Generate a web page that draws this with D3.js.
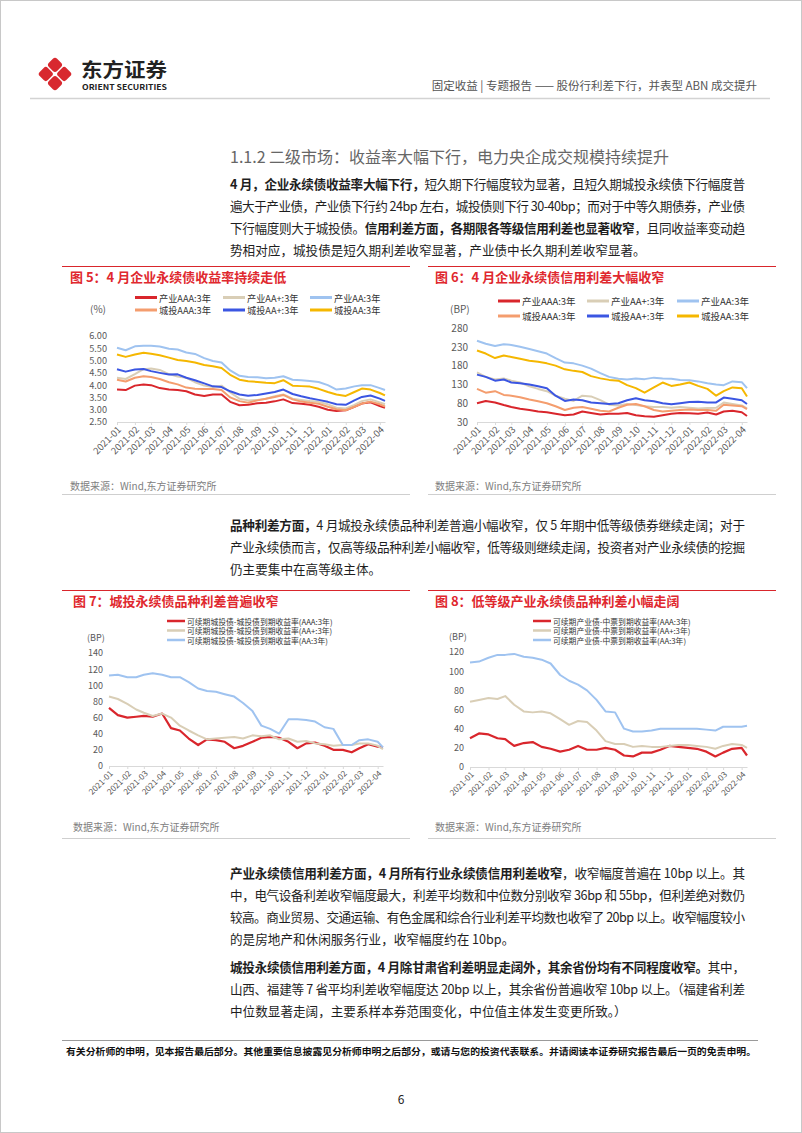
<!DOCTYPE html>
<html><head><meta charset="utf-8">
<script src="https://cdn.jsdelivr.net/npm/d3@7"></script>
<style>
body{margin:0;background:#fff}
svg{display:block}
text{font-family:"Noto Sans CJK SC","Noto Sans",sans-serif}
</style>
</head><body>
<svg id="page" width="802" height="1133"></svg>
<script>
// ---------- DATA ----------
const dates = ["2021-01-01","2021-01-16","2021-02-01","2021-02-16","2021-03-01","2021-03-16","2021-04-01","2021-04-16",
"2021-05-01","2021-05-16","2021-06-01","2021-06-16","2021-07-01","2021-07-16","2021-08-01","2021-08-16",
"2021-09-01","2021-09-16","2021-10-01","2021-10-16","2021-11-01","2021-11-16","2021-12-01","2021-12-16",
"2022-01-01","2022-01-16","2022-02-01","2022-02-16","2022-03-01","2022-03-16","2022-04-01","2022-04-10"];

// Fig 5: yields (%)
const c5IndAAA = [3.82,3.80,3.98,4.03,4.00,3.88,3.82,3.80,3.75,3.62,3.56,3.62,3.62,3.32,3.18,3.20,3.26,3.28,3.34,3.42,3.27,3.24,3.20,3.12,3.00,2.95,2.98,3.12,3.25,3.30,3.15,3.08];
const c5IndAAp = [4.30,4.25,4.45,4.65,4.68,4.62,4.45,4.35,4.30,4.12,3.98,3.92,3.98,3.70,3.45,3.38,3.40,3.45,3.55,3.62,3.45,3.40,3.35,3.32,3.22,3.08,3.05,3.20,3.35,3.42,3.30,3.22];
const c5IndAA  = [5.52,5.42,5.58,5.60,5.60,5.57,5.48,5.45,5.33,5.27,5.10,4.98,4.92,4.60,4.38,4.33,4.32,4.28,4.30,4.36,4.22,4.20,4.17,4.13,4.00,3.82,3.86,3.95,4.00,4.00,3.88,3.80];
const c5CtAAA  = [4.22,4.15,4.30,4.36,4.33,4.25,4.12,4.03,3.90,3.85,3.84,3.84,3.80,3.50,3.35,3.28,3.38,3.45,3.52,3.60,3.42,3.33,3.28,3.24,3.12,3.02,2.98,3.12,3.25,3.33,3.22,3.13];
const c5CtAAp  = [4.65,4.55,4.64,4.66,4.57,4.50,4.43,4.44,4.30,4.20,4.07,3.95,3.92,3.75,3.62,3.57,3.60,3.66,3.72,3.82,3.64,3.55,3.47,3.40,3.32,3.22,3.20,3.38,3.52,3.58,3.45,3.36];
const c5CtAA   = [5.25,5.15,5.25,5.32,5.28,5.22,5.12,5.02,4.98,4.92,4.82,4.77,4.70,4.42,4.22,4.16,4.13,4.10,4.08,4.20,3.98,3.96,3.94,3.85,3.72,3.62,3.56,3.72,3.86,3.82,3.68,3.58];

// Fig 6: credit spreads (BP)
const c6IndAAA = [80,86,82,75,70,65,62,58,56,52,48,50,58,54,50,52,52,54,48,45,44,48,52,54,53,52,55,50,58,60,56,46];
const c6IndAAp = [162,150,143,146,140,135,125,118,112,100,92,86,100,98,88,76,74,78,75,72,70,70,68,70,68,66,67,68,82,78,74,66];
const c6IndAA  = [246,238,232,237,235,230,224,218,212,200,188,186,180,172,160,150,145,143,146,144,148,146,145,142,141,138,133,130,128,138,136,120];
const c6CtAAA  = [118,108,112,102,100,96,90,85,80,72,62,68,70,65,60,58,68,76,78,72,62,58,60,62,63,62,62,60,76,74,72,64];
const c6CtAAp  = [156,150,140,143,135,133,130,125,120,100,86,90,88,82,80,78,80,88,93,88,85,80,77,80,83,84,82,82,95,92,88,78];
const c6CtAA   = [220,212,200,207,203,198,193,190,186,180,170,166,163,152,146,142,140,128,120,108,122,135,126,130,135,126,118,100,112,122,120,98];

// Fig 7: 城投 variety spreads (BP)
const c7AAA = [72,63,60,61,62,61,65,47,44,34,26,33,32,30,22,25,30,35,36,35,30,22,28,29,25,20,20,17,22,27,24,23];
const c7AAp = [86,83,77,70,66,62,65,60,50,44,38,33,34,35,36,34,38,37,38,33,34,30,31,28,27,25,26,26,28,28,25,21];
const c7AA  = [112,113,110,110,113,115,113,110,110,104,96,93,92,89,86,78,68,50,46,40,58,58,57,55,48,46,26,26,32,33,30,23];

// Fig 8: 产业 variety spreads (BP)
const c8AAA = [30,35,34,30,29,22,25,26,21,19,16,18,22,18,18,20,18,12,11,15,15,18,22,21,20,19,16,11,15,19,20,12];
const c8AAp = [68,70,72,71,74,65,58,57,58,56,50,44,48,47,38,27,24,24,21,22,21,21,22,23,23,22,21,19,22,24,23,20];
const c8AA  = [109,110,114,117,117,118,115,114,112,108,96,90,86,80,70,58,57,40,37,37,38,40,40,40,40,40,39,38,42,42,42,43];

const c5Ticks = [2.5,3.0,3.5,4.0,4.5,5.0,5.5,6.0];
const c6Ticks = [30,80,130,180,230,280];
const c7Ticks = [0,20,40,60,80,100,120,140];
const c8Ticks = [0,20,40,60,80,100,120];

const names56 = ["产业AAA:3年","产业AA+:3年","产业AA:3年","城投AAA:3年","城投AA+:3年","城投AA:3年"];
const names7 = ["可续期城投债-城投债到期收益率(AAA:3年)","可续期城投债-城投债到期收益率(AA+:3年)","可续期城投债-城投债到期收益率(AA:3年)"];
const names8 = ["可续期产业债-中票到期收益率(AAA:3年)","可续期产业债-中票到期收益率(AA+:3年)","可续期产业债-中票到期收益率(AA:3年)"];

// ---------- STYLE ----------
const RED="#d9262c", BEIGE="#d9ceb6", LBLUE="#9fc3f0", ORANGE="#f49d6e", BLUE="#3b56e2", YELLOW="#f5b700";
const colors56 = [RED,BEIGE,LBLUE,ORANGE,BLUE,YELLOW];
const colors78 = [RED,BEIGE,LBLUE];

const svg = d3.select("#page");
const parse = d3.timeParse("%Y-%m-%d");
const dts = dates.map(parse);

// page frame
svg.append("rect").attr("x",0.5).attr("y",0.5).attr("width",801).attr("height",1132).attr("fill","none").attr("stroke","#c8c8c8");

// ---------- HEADER ----------
const logo = svg.append("g").attr("transform","translate(55,74)");
[[0,-9.2],[-9.2,0],[9.2,0],[0,9.2]].forEach(([dx,dy])=>{
  logo.append("rect").attr("x",-5.8).attr("y",-5.8).attr("width",11.6).attr("height",11.6).attr("rx",3)
    .attr("fill","#d8292f").attr("transform",`translate(${dx},${dy}) rotate(45)`);
});
svg.append("text").attr("x",81).attr("y",77).attr("font-size",19.5).attr("font-weight","bold").attr("fill","#222")
  .attr("textLength",86).attr("lengthAdjust","spacingAndGlyphs").text("东方证券");
svg.append("text").attr("x",82).attr("y",90).attr("font-size",7.4).attr("font-weight","bold").attr("fill","#222")
  .attr("textLength",85).attr("lengthAdjust","spacingAndGlyphs").text("ORIENT SECURITIES");
svg.append("text").attr("x",757).attr("y",90).attr("text-anchor","end").attr("font-size",11.5).attr("fill","#555")
  .text("固定收益 | 专题报告 —— 股份行利差下行，并表型 ABN 成交提升");
svg.append("line").attr("x1",30).attr("x2",770).attr("y1",98.5).attr("y2",98.5).attr("stroke","#d3d3d3").attr("stroke-width",1.5);

// ---------- BODY TEXT ----------
svg.append("text").attr("x",230).attr("y",163).attr("font-size",16).attr("fill","#666")
  .text("1.1.2 二级市场：收益率大幅下行，电力央企成交规模持续提升");

function para(lines, y0, lh){
  lines.forEach((ln,i)=>{
    const t = svg.append("text").attr("x",230).attr("y",y0+i*lh).attr("font-size",12.6).attr("fill","#1e1e1e");
    if (ln.j) t.attr("textLength",515).attr("lengthAdjust","spacing");
    ln.s.forEach(seg=>{
      t.append("tspan").attr("font-weight",seg[1]?"bold":null).text(seg[0]);
    });
  });
}
para([
 {j:1,s:[["4 月，企业永续债收益率大幅下行，",1],["短久期下行幅度较为显著，且短久期城投永续债下行幅度普",0]]},
 {j:1,s:[["遍大于产业债，产业债下行约 24bp 左右，城投债则下行 30-40bp；而对于中等久期债券，产业债",0]]},
 {j:1,s:[["下行幅度则大于城投债。",0],["信用利差方面，各期限各等级信用利差也显著收窄",1],["，且同收益率变动趋",0]]},
 {j:0,s:[["势相对应，城投债是短久期利差收窄显著，产业债中长久期利差收窄显著。",0]]}
],189,22);
para([
 {j:1,s:[["品种利差方面，",1],["4 月城投永续债品种利差普遍小幅收窄，仅 5 年期中低等级债券继续走阔；对于",0]]},
 {j:1,s:[["产业永续债而言，仅高等级品种利差小幅收窄，低等级则继续走阔，投资者对产业永续债的挖掘",0]]},
 {j:0,s:[["仍主要集中在高等级主体。",0]]}
],530,22);
para([
 {j:1,s:[["产业永续债信用利差方面，4 月所有行业永续债信用利差收窄",1],["，收窄幅度普遍在 10bp 以上。其",0]]},
 {j:1,s:[["中，电气设备利差收窄幅度最大，利差平均数和中位数分别收窄 36bp 和 55bp，但利差绝对数仍",0]]},
 {j:1,s:[["较高。商业贸易、交通运输、有色金属和综合行业利差平均数也收窄了 20bp 以上。收窄幅度较小",0]]},
 {j:0,s:[["的是房地产和休闲服务行业，收窄幅度约在 10bp。",0]]}
],878,22);
para([
 {j:1,s:[["城投永续债信用利差方面，4 月除甘肃省利差明显走阔外，其余省份均有不同程度收窄。",1],["其中，",0]]},
 {j:1,s:[["山西、福建等 7 省平均利差收窄幅度达 20bp 以上，其余省份普遍收窄 10bp 以上。（福建省利差",0]]},
 {j:0,s:[["中位数显著走阔，主要系样本券范围变化，中位值主体发生变更所致。）",0]]}
],972,22);

// ---------- FOOTER ----------
svg.append("line").attr("x1",62).attr("x2",758).attr("y1",1040.5).attr("y2",1040.5).attr("stroke","#9a9a9a").attr("stroke-width",1.2);
svg.append("text").attr("x",66).attr("y",1055).attr("font-size",9.6).attr("font-weight","bold").attr("fill","#111")
  .attr("textLength",690).attr("lengthAdjust","spacingAndGlyphs")
  .text("有关分析师的申明，见本报告最后部分。其他重要信息披露见分析师申明之后部分，或请与您的投资代表联系。并请阅读本证券研究报告最后一页的免责申明。");
svg.append("text").attr("x",401).attr("y",1104).attr("text-anchor","middle").attr("font-size",12).attr("fill","#222").text("6");

// ---------- CHARTS ----------
function chart(c){
  const g = svg.append("g");
  g.append("line").attr("x1",c.box[0]).attr("x2",c.box[1]).attr("y1",c.top+0.5).attr("y2",c.top+0.5).attr("stroke",RED).attr("stroke-width",1);
  g.append("text").attr("x",c.titleX).attr("y",c.top+16).attr("font-size",13).attr("font-weight","bold").attr("fill","#e0282e").text(c.title);
  g.append("line").attr("x1",c.box[0]).attr("x2",c.box[1]).attr("y1",c.bottom+0.5).attr("y2",c.bottom+0.5).attr("stroke","#cfcfcf").attr("stroke-width",1);
  g.append("text").attr("x",c.titleX).attr("y",c.srcY).attr("font-size",10).attr("fill","#808080").text("数据来源：Wind,东方证券研究所");

  const x = d3.scaleTime().domain([dts[0], dts[dts.length-1]]).range(c.xr);
  const y = d3.scaleLinear().domain([c.ticks[0], c.ticks[c.ticks.length-1]]).range(c.yr);

  const xa = g.append("g").attr("transform",`translate(0,${c.yr[0]})`)
    .call(d3.axisBottom(x).ticks(d3.timeMonth.every(1)).tickFormat(d3.timeFormat("%Y-%m")).tickSize(3).tickSizeOuter(0));
  xa.select(".domain").attr("stroke","#d9d9d9");
  xa.selectAll(".tick line").attr("stroke","#d9d9d9");
  xa.selectAll(".tick text").attr("x",0).attr("y",0).attr("dy","0.35em").attr("font-size",c.xfs).attr("fill","#595959")
    .attr("text-anchor","end").attr("transform",`translate(2,${c.xoff}) rotate(-45)`);

  const ya = g.append("g").attr("transform",`translate(${c.ylx},0)`)
    .call(d3.axisLeft(y).tickValues(c.ticks).tickFormat(c.fmt).tickSize(0).tickPadding(0));
  ya.select(".domain").remove();
  ya.selectAll("text").attr("font-size",c.yfs).attr("fill","#595959");

  g.append("text").attr("x",c.unit[0]).attr("y",c.unit[1]).attr("font-size",c.ufs).attr("fill","#595959").attr("dominant-baseline","central").text(c.unitText);

  const line = d3.line().x((d,i)=>x(dts[i])).y(d=>y(d));
  c.series.forEach((s,k)=>{
    g.append("path").datum(s).attr("d",line).attr("fill","none").attr("stroke",c.colors[k])
      .attr("stroke-width",c.lw[k]).attr("stroke-linejoin","round");
  });
  c.legend.forEach((p,k)=>{
    g.append("line").attr("x1",p[0]).attr("x2",p[0]+c.legLen).attr("y1",p[1]).attr("y2",p[1])
      .attr("stroke",c.colors[k]).attr("stroke-width",c.legW);
    g.append("text").attr("x",p[0]+c.legLen+2).attr("y",p[1]).attr("dominant-baseline","central")
      .attr("font-size",c.lfs).attr("fill","#333").text(c.names[k]);
  });
}

chart({box:[62,410],top:266,bottom:494,titleX:70,srcY:490,title:"图 5：4 月企业永续债收益率持续走低",
  xr:[117,385],yr:[422,336],ticks:c5Ticks,fmt:d3.format(".2f"),ylx:107,yfs:9.2,ufs:10,xfs:9.5,xoff:6,
  unit:[90,308],unitText:"(%)",
  series:[c5IndAAA,c5IndAAp,c5IndAA,c5CtAAA,c5CtAAp,c5CtAA],colors:colors56,lw:[2,2,2,2,2,2],
  legend:[[135,297.5],[223,297.5],[310,297.5],[135,310],[223,310],[310,310]],legLen:22,legW:3,lfs:9.2,names:names56});

chart({box:[428,776],top:266,bottom:494,titleX:435,srcY:490,title:"图 6：4 月企业永续债信用利差大幅收窄",
  xr:[477,747],yr:[422,328],ticks:c6Ticks,fmt:d3.format("d"),ylx:468,yfs:10,ufs:10,xfs:9.5,xoff:6,
  unit:[450,308],unitText:"(BP)",
  series:[c6IndAAA,c6IndAAp,c6IndAA,c6CtAAA,c6CtAAp,c6CtAA],colors:colors56,lw:[2,2,2,2,2,2],
  legend:[[498,301],[587,301],[677,301],[498,316],[587,316],[677,316]],legLen:22,legW:3,lfs:9.5,names:names56});

chart({box:[62,410],top:590,bottom:838,titleX:73,srcY:831,title:"图 7：城投永续债品种利差普遍收窄",
  xr:[109,383],yr:[766,653],ticks:c7Ticks,fmt:d3.format("d"),ylx:103,yfs:9,ufs:9,xfs:8.2,xoff:6,
  unit:[87,637],unitText:"(BP)",
  series:[c7AAA,c7AAp,c7AA],colors:colors78,lw:[2.2,2,2],
  legend:[[167,621],[167,630.5],[167,640]],legLen:18,legW:2.5,lfs:7.8,names:names7});

chart({box:[428,776],top:590,bottom:838,titleX:435,srcY:831,title:"图 8：低等级产业永续债品种利差小幅走阔",
  xr:[470,747],yr:[767,652],ticks:c8Ticks,fmt:d3.format("d"),ylx:464,yfs:9,ufs:9,xfs:8.2,xoff:6,
  unit:[449,636],unitText:"(BP)",
  series:[c8AAA,c8AAp,c8AA],colors:colors78,lw:[2.2,2,2],
  legend:[[533,621],[533,630.5],[533,640]],legLen:18,legW:2.5,lfs:7.8,names:names8});
</script>
</body></html>
